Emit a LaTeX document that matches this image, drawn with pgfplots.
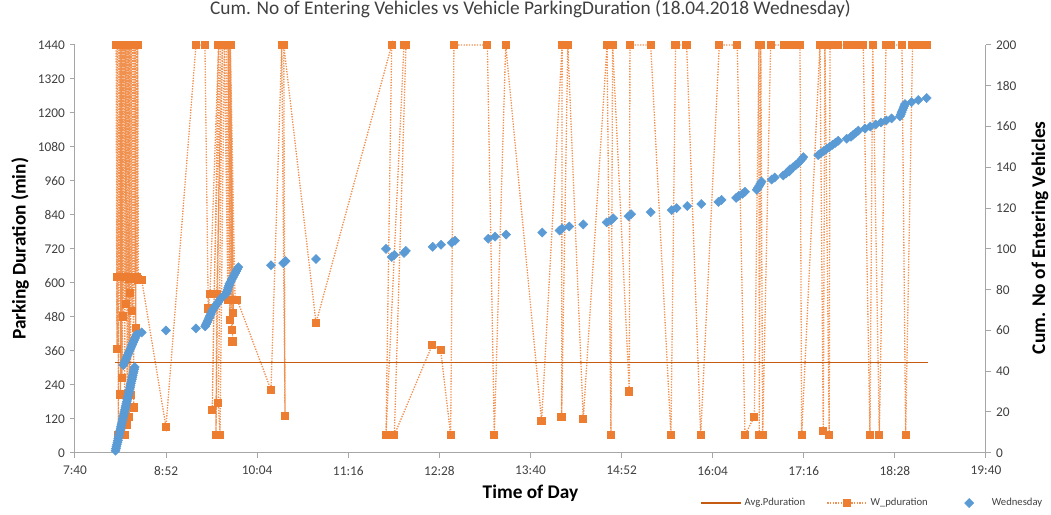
\documentclass[border=0pt]{standalone}
\usepackage{fontspec}
\setmainfont{Carlito}
\usepackage{pgfplots}
\pgfplotsset{compat=1.18}
\definecolor{orng}{HTML}{ED7D31}
\definecolor{avgc}{HTML}{C55A11}
\definecolor{blu}{HTML}{5B9BD5}
\definecolor{axgray}{HTML}{A6A6A6}
\definecolor{txt}{HTML}{404040}

% common frame: x in minutes after midnight, 1px = 0.75pt
\pgfplotsset{
  frame/.style={
    scale only axis, width=683.25pt, height=305.8pt,
    at={(0,0)}, anchor=south west,
    xmin=460, xmax=1180,
    xtick={460,532,...,1180},
    xticklabels={7:40,8:52,10:04,11:16,12:28,13:40,14:52,16:04,17:16,18:28,19:40},
    tick align=outside, major tick length=4pt,
    axis line style={axgray, line width=0.75pt},
    tick style={axgray, line width=0.75pt},
    ticklabel style={font=\fontsize{10}{12}\selectfont, text=txt},
    xticklabel style={yshift=-2.5pt},
    /pgf/number format/assume math mode=true,
    /pgf/number format/1000 sep={},
    scaled y ticks=false,
    clip=false,
    legend image code/.code={\path[draw=none,fill=none] (0pt,0pt) -- (30pt,0pt);
      \draw[mark repeat=2,mark phase=2,##1] plot coordinates {(0pt,0pt) (15pt,0pt) (30pt,0pt)};},
  },
  wdot/.style={orng!85, line width=1pt, dash pattern=on 1pt off 1pt,
    mark=square*, mark size=2.6pt, mark options={solid, fill=orng, draw=orng}},
}

\begin{document}
\begin{tikzpicture}
\path[use as bounding box] (-56.25pt,-46pt) rectangle (732pt,339.55pt);

\begin{axis}[frame,
  axis x line*=bottom, axis y line*=left,
  ymin=0, ymax=1440, ytick={0,120,...,1440},
  title={Cum. No of Entering Vehicles vs Vehicle ParkingDuration (18.04.2018 Wednesday)},
  title style={font=\fontsize{14.5}{16}\selectfont, text=txt, at={(0.5,1)}, anchor=base, yshift=16.5pt},
  xlabel={Time of Day},
  xlabel style={font=\fontsize{14.5}{17}\selectfont\bfseries, at={(axis description cs:0.5,0)}, anchor=base, yshift=-34.7pt},
  ylabel={Parking Duration (min)},
  ylabel style={font=\fontsize{14.5}{17}\selectfont\bfseries, at={(axis description cs:0,0.5)}, anchor=center, yshift=41.25pt},
]
% W_pduration
\addplot[wdot] coordinates {
(492.5,1440) (493,620) (493.2,367) (493.5,1440) (494,620) (494.3,63) (494.8,1440)
(495.2,620) (495.6,1440) (496,206) (496.4,1440) (496.8,620) (497.2,263) (497.6,1440)
(498,481) (498.4,620) (498.8,1440) (499.2,63) (499.6,620) (500,1440) (500.4,526)
(500.8,1440) (501.2,98) (501.6,620) (502,1440) (502.4,615) (502.8,127) (503.2,1440)
(503.6,564) (504,204) (504.4,1440) (504.8,620) (505.2,501) (505.6,1440) (506,615)
(506.4,160) (506.8,1440) (507.2,615) (507.6,1440) (508,440) (508.4,1440) (508.8,620)
(509.2,615) (509.6,1440) (510,612) (512.7,611)
(531.9,91) (555.6,1440) (562.7,1440) (565.3,509) (566.7,560) (573.5,1440) (568.5,151)
(569.9,560) (575,1440) (571.4,63) (572,560) (576.5,1440) (573.3,175) (574.6,63)
(578,1440) (580.9,540) (579.5,1440) (582.5,469) (581,1440) (583.8,434) (582,1440)
(584.5,393) (582.5,1440) (585.1,493) (582.8,1440) (586.5,540) (587.2,540) (588.2,540)
(614.9,222) (623.4,1440) (626,130) (625,1440) (650.5,458) (710.3,1440) (705.8,63)
(720,1440) (721.6,1440) (712.4,63) (742.4,381) (749,363) (756.9,63)
(759.5,1440) (785.9,1440) (791.4,63) (800.4,1440) (828.8,112) (845,1440) (844.6,125)
(849.5,1440) (861.7,118) (880.5,1440) (883.6,63) (884.9,1440)
(898.1,216) (898.6,1440) (915,1440) (931,63) (934.7,1440) (943.4,1440)
(954.5,63) (969.2,1440) (983.4,1440) (989.5,63) (996.9,127) (1000.6,1440) (1000.8,63)
(1002,1440) (1003.5,63) (1009.8,1440) (1020.5,1440) (1024.5,1440) (1028.5,1440)
(1033,1440) (1034.3,63) (1048.8,1440) (1051.4,77) (1052.7,1440) (1056.1,63)
(1056.7,1440) (1060.6,1440) (1063,1440) (1069.9,1440) (1073,1440) (1076.5,1440)
(1080,1440) (1083,1440) (1088.3,63) (1090.5,1440) (1095.7,63) (1101,1440) (1105,1440)
(1113.6,1440) (1116.5,63) (1122,1440) (1126,1440) (1133,1440)
};
% Avg.Pduration
\addplot[avgc, line width=1.2pt] coordinates {(492,319) (1134,319)};
\end{axis}

\begin{axis}[frame,
  axis x line=none, axis y line*=right,
  ymin=0, ymax=200, ytick={0,20,...,200},
  ylabel={Cum. No of Entering Vehicles},
  ylabel style={font=\fontsize{14.5}{17}\selectfont\bfseries, at={(axis description cs:1,0.527)}, anchor=center, yshift=-40.5pt},
  legend style={at={(1.065,-0.1234)}, anchor=east, legend columns=3, draw=none, fill=none,
    inner sep=0pt, font=\fontsize{8}{10}\selectfont, text=txt,
    /tikz/every even column/.append style={column sep=14pt}},
]
\addlegendimage{avgc, line width=1.2pt}
\addlegendentry{Avg.Pduration}
\addlegendimage{wdot}
\addlegendentry{W\_pduration}
% Wednesday
\addplot[only marks, mark=square*, mark size=2.4pt, mark options={rotate=45, fill=blu, draw=blu}] coordinates {
(492.0,1) (492.4,2) (492.7,3) (493.1,4) (493.5,5) (493.9,6) (494.2,7) (494.6,8) (495.0,9) (495.3,10)
(495.7,11) (496.1,12) (496.4,13) (496.8,14) (497.2,15) (497.6,16) (497.9,17) (498.3,18) (498.7,19) (499.0,20)
(499.4,21) (499.8,22) (500.1,23) (500.5,24) (500.9,25) (501.3,26) (501.6,27) (502.0,28) (502.4,29) (502.7,30)
(503.1,31) (503.5,32) (503.8,33) (504.2,34) (504.6,35) (505.0,36) (505.3,37) (505.7,38) (506.1,39) (506.4,40)
(506.8,41) (507.2,42)
(498.2,43) (498.9,44) (499.6,45) (500.3,46) (501.0,47) (501.7,48) (502.4,49) (503.1,50) (503.8,51) (504.5,52)
(505.2,53) (505.9,54) (506.6,55) (507.3,56) (508.0,57) (508.7,58)
(512.7,59) (531.9,60) (555.6,61)
(562.9,62) (563.6,63) (564.4,64) (565.1,65) (565.8,66) (566.5,67) (567.3,68) (568.0,69) (568.7,70) (569.9,71)
(571.0,72) (572.2,73) (573.3,74) (574.5,75) (575.6,76) (577.5,77) (579.5,78) (580.0,79) (580.6,80) (581.1,81)
(581.7,82) (582.2,83) (583.1,84) (583.9,85) (584.8,86) (585.6,87) (586.5,88) (587.4,89) (588.2,90) (589.1,91)
(614.9,92) (624.6,93) (626.5,94) (650.5,95)
(705.8,100) (710.3,96) (712.4,97) (720.0,98) (721.5,99)
(742.7,101) (749.3,102) (757.7,103) (760.3,104) (786.6,105) (792.0,106) (800.7,107) (829.3,108) (843.0,109) (845.0,110)
(850.6,111) (861.7,112) (880.2,113) (883.6,114) (885.4,115) (897.5,116) (899.5,117) (915.0,118) (931.6,119) (935.5,120)
(943.9,121) (955.0,122) (968.5,123) (971.0,124) (982.5,125) (984.5,126) (987.5,127) (989.5,128) (998.8,129) (999.8,130)
(1000.8,131) (1001.8,132) (1002.6,133) (1010.6,134) (1013.0,135) (1019.8,136) (1022.0,137) (1024.5,138) (1025.1,139) (1027.5,140)
(1029.5,141) (1031.5,142) (1033.0,143) (1034.5,144) (1035.6,145) (1047.4,146) (1049.5,147) (1051.8,148) (1054.0,149) (1056.3,150)
(1058.6,151) (1060.9,152) (1063.2,153) (1069.9,154) (1073.3,155) (1075.2,156) (1077.2,157) (1079.1,158) (1084.4,159) (1088.6,160)
(1092.8,161) (1097.0,162) (1101.2,163) (1105.4,164) (1112.0,165) (1112.7,166) (1113.3,167) (1114.0,168) (1114.7,169) (1115.3,170)
(1116.0,171) (1121.2,172) (1126.5,173) (1133.1,174)
};
\addlegendentry{Wednesday}
\end{axis}
\end{tikzpicture}
\end{document}
